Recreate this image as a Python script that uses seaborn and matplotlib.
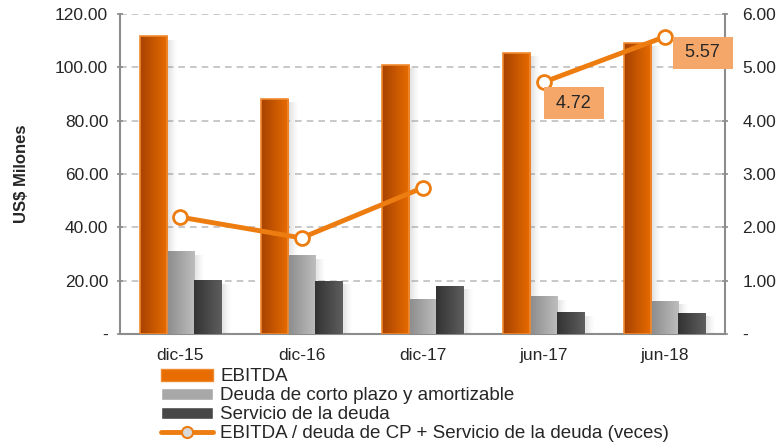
import numpy as np
import pandas as pd
import seaborn as sns
import matplotlib.pyplot as plt
from matplotlib.patches import Patch
from matplotlib.lines import Line2D
from matplotlib.colors import LinearSegmentedColormap

sns.set_theme(style="white")
plt.rcParams['font.family'] = ['Liberation Sans', 'DejaVu Sans']

# data
periodos = ["dic-15", "dic-16", "dic-17", "jun-17", "jun-18"]
ebitda = [111.7, 88.1, 100.9, 105.4, 109.1]
deuda_cp = [31.1, 29.6, 13.1, 14.2, 12.4]
servicio = [20.2, 19.9, 18.0, 8.2, 7.9]
cobertura = [2.19, 1.80, 2.74, 4.72, 5.57]
tramo = [1, 1, 1, 2, 2]          # the line is broken between dic-17 and jun-17
etiquetas = {3: "4.72", 4: "5.57"}

series = ["EBITDA", "Deuda de corto plazo y amortizable", "Servicio de la deuda"]
linea_nombre = "EBITDA / deuda de CP + Servicio de la deuda (veces)"

df = pd.DataFrame({
    "Periodo": periodos * 3,
    "Serie": [series[0]] * 5 + [series[1]] * 5 + [series[2]] * 5,
    "Valor": ebitda + deuda_cp + servicio,
})
df_linea = pd.DataFrame({"x": range(len(periodos)), "veces": cobertura, "tramo": tramo})

naranja = "#ED7D10"
gradientes = {
    series[0]: ("#A84300", "#E86C00"),
    series[1]: ("#8C8C8C", "#BDBDBD"),
    series[2]: ("#333333", "#5E5E5E"),
}

fig = plt.figure(figsize=(7.84, 4.48), dpi=100)
ax = fig.add_axes([0.153, 0.2545, 0.772, 0.7145])

sns.barplot(data=df, x="Periodo", y="Valor", hue="Serie", order=periodos,
            hue_order=series, palette=[g[1] for g in gradientes.values()],
            width=0.67, gap=0, legend=False, ax=ax, zorder=3)

# soft shadow strip: grey fading to transparent
sombra = np.zeros((1, 32, 4))
sombra[..., :3] = 0.45
sombra[..., 3] = np.linspace(0.4, 0, 32) ** 1.5

# horizontal gradient fill on every bar
for cont, serie in zip(ax.containers, series):
    cmap = LinearSegmentedColormap.from_list(serie, gradientes[serie])
    for bar in cont:
        x0, y0 = bar.get_x(), bar.get_y()
        w, h = bar.get_width(), bar.get_height()
        ax.imshow(sombra, aspect="auto", extent=[x0 + w, x0 + w + 0.09, y0, y0 + h - 1.5],
                  zorder=2.9)
        im = ax.imshow(np.linspace(0, 1, 64).reshape(1, -1), cmap=cmap, aspect="auto",
                       extent=[x0, x0 + w, y0, y0 + h], zorder=3.5)
        im.set_clip_path(bar)
        if serie == series[0]:
            bar.set_edgecolor("#F08A30")
            bar.set_linewidth(1.2)
            bar.set_zorder(3.6)
            bar.set_facecolor("none")

ax.set_xlim(-0.5, 4.5)
ax.set_ylim(0, 120)
ax.set_yticks(np.arange(0, 121, 20))
ax.set_yticklabels(["-"] + [f"{v:.2f}" for v in np.arange(20, 121, 20)], fontsize=12.5)
ax.set_xticks(range(len(periodos)))
ax.set_xticklabels(periodos, fontsize=12.5)
ax.set_xticks(np.arange(-0.5, 5, 1), minor=True)
ax.tick_params(axis="x", which="major", length=0, pad=10)
ax.tick_params(axis="x", which="minor", length=5, width=1.2, color="#8C8C8C", direction="out")
ax.tick_params(axis="y", length=5, width=1.2, color="#8C8C8C", direction="inout", left=True, pad=6)
ax.grid(axis="y", color="#BFBFBF", linestyle=(0, (4, 3)), linewidth=1.2, zorder=0)
ax.set_axisbelow(True)
for s in ["left", "bottom", "right"]:
    ax.spines[s].set_color("#8C8C8C")
    ax.spines[s].set_linewidth(1.5)
ax.spines["top"].set_visible(False)
ax.set_xlabel("")
ax.set_ylabel("US$ Milones", fontsize=12, fontweight="bold", labelpad=19)

# ratio on the secondary axis
ax2 = ax.twinx()
sns.lineplot(data=df_linea, x="x", y="veces", units="tramo", estimator=None,
             color=naranja, linewidth=3.5, marker="o", markersize=10,
             markerfacecolor="white", markeredgecolor=naranja, markeredgewidth=2,
             ax=ax2, zorder=5, legend=False)
ax2.set_ylim(0, 6)
ax2.set_yticks(np.arange(0, 7, 1))
ax2.set_yticklabels(["-"] + [f"{v:.2f}" for v in np.arange(1, 7, 1)], fontsize=12.5)
ax2.tick_params(axis="y", length=5, width=1.2, color="#8C8C8C", direction="inout", right=True, pad=10)
ax2.set_ylabel("")
ax2.set_xlabel("")
for s in ax2.spines.values():
    s.set_visible(False)

desplaz = {3: (21.6, -15), 4: (27.4, -11.5)}
for i, txt in etiquetas.items():
    ax2.annotate(f" {txt} ", (i, cobertura[i]), xytext=desplaz[i], textcoords="offset points",
                 ha="center", va="center", fontsize=13, zorder=6,
                 bbox=dict(boxstyle="square,pad=0.42", fc="#F5A76A", ec="none"))

handles = [
    Patch(facecolor=gradientes[series[0]][1], edgecolor="#F08A30"),
    Patch(facecolor="#A8A8A8"),
    Patch(facecolor="#474747"),
    Line2D([], [], color=naranja, linewidth=3.5, marker="o", markersize=8,
           markerfacecolor="#D9D9D9", markeredgecolor=naranja, markeredgewidth=1.5),
]
fig.legend(handles, series + [linea_nombre], loc="lower left", bbox_to_anchor=(0.1886, -0.016),
           frameon=False, fontsize=13.5, handlelength=2.8, handleheight=0.6,
           labelspacing=0.1, handletextpad=0.35, borderpad=0.2)

fig.savefig("out.png", dpi=100)
